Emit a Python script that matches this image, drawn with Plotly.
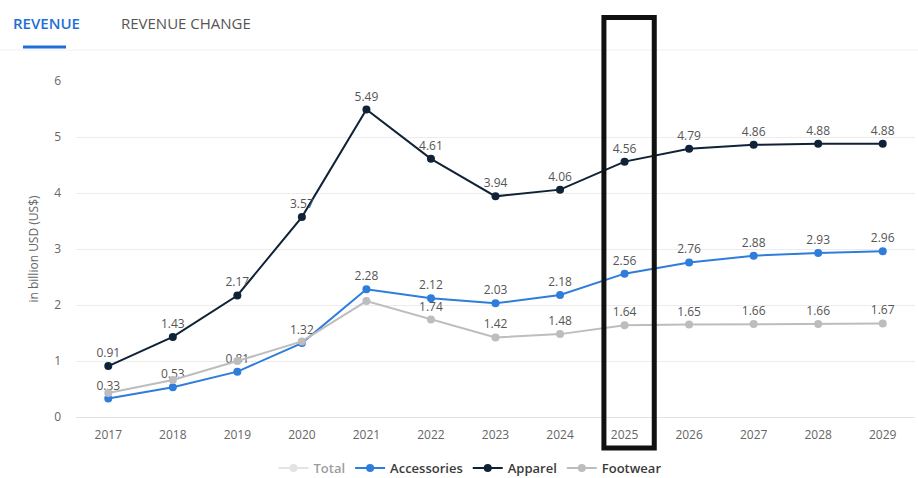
import plotly.graph_objects as go

years = [2017, 2018, 2019, 2020, 2021, 2022, 2023, 2024, 2025, 2026, 2027, 2028, 2029]
total = [1.67, 2.62, 3.98, 6.24, 9.84, 8.47, 7.39, 7.72, 8.76, 9.20, 9.40, 9.47, 9.51]
accessories = [0.33, 0.53, 0.81, 1.32, 2.28, 2.12, 2.03, 2.18, 2.56, 2.76, 2.88, 2.93, 2.96]
apparel = [0.91, 1.43, 2.17, 3.57, 5.49, 4.61, 3.94, 4.06, 4.56, 4.79, 4.86, 4.88, 4.88]
footwear = [0.43, 0.66, 1.00, 1.35, 2.07, 1.74, 1.42, 1.48, 1.64, 1.65, 1.66, 1.66, 1.67]
footwear_labels = ["", "", "", "", "", "1.74", "1.42", "1.48", "1.64", "1.65", "1.66", "1.66", "1.67"]
y_ticks = [0, 1, 2, 3, 4, 5, 6]

FONT = "Open Sans"
LABEL = dict(family=FONT, size=12, color="#555555")

fig = go.Figure()

fig.add_trace(go.Scatter(
    x=years, y=total, name="Total", mode="lines+markers",
    line=dict(color="#c8c8c8", width=2), marker=dict(size=8, color="#c8c8c8"),
    visible="legendonly"))

fig.add_trace(go.Scatter(
    x=years, y=accessories, name="Accessories", mode="lines+markers+text",
    line=dict(color="#2f7ddb", width=2), marker=dict(size=8, color="#2f7ddb"),
    text=[f"{v:.2f}" for v in accessories], textposition="top center",
    textfont=LABEL, cliponaxis=False))

fig.add_trace(go.Scatter(
    x=years, y=apparel, name="Apparel", mode="lines+markers+text",
    line=dict(color="#0f2237", width=2), marker=dict(size=8, color="#0f2237"),
    text=[f"{v:.2f}" for v in apparel], textposition="top center",
    textfont=LABEL, cliponaxis=False))

fig.add_trace(go.Scatter(
    x=years, y=footwear, name="Footwear", mode="lines+markers+text",
    line=dict(color="#bdbdbd", width=2), marker=dict(size=8, color="#bdbdbd"),
    text=footwear_labels, textposition="top center",
    textfont=LABEL, cliponaxis=False))

L, R, T, B = 76, 3, 81, 61
W, H = 918, 478
pw = W - L - R
ph = H - T - B

def px(x):
    return (x - L) / pw

def py(y):
    return (H - B - y) / ph

fig.update_layout(
    width=W, height=H,
    margin=dict(l=L, r=R, t=T, b=B, autoexpand=False),
    paper_bgcolor="white", plot_bgcolor="white",
    font=dict(family=FONT, size=12, color="#666666"),
    showlegend=True,
    legend=dict(orientation="h", x=px(470), xanchor="center", y=py(468), yanchor="middle",
                font=dict(family=FONT, size=13, color="#3a3a3a", weight=600),
                itemwidth=30, bgcolor="rgba(0,0,0,0)"),
    xaxis=dict(range=[2016.5, 2029.5], tickmode="array", tickvals=years,
               ticktext=[str(y) for y in years], showgrid=False, zeroline=False,
               showline=True, linecolor="#e3e3e3", linewidth=1, ticks="",
               ticklabelstandoff=7,
               tickfont=dict(family=FONT, size=12, color="#666666"), fixedrange=True),
    yaxis=dict(range=[0, 6], tickmode="array", tickvals=y_ticks,
               showgrid=True, gridcolor="#ececec", gridwidth=1, zeroline=False,
               ticks="", ticklabelstandoff=14,
               tickfont=dict(family=FONT, size=12, color="#666666"),
               title=dict(text="in billion USD (US$)", standoff=12,
                          font=dict(family=FONT, size=12, color="#666666")),
               fixedrange=True),
    annotations=[
        dict(text="REVENUE", xref="paper", yref="paper", x=px(11), y=py(23),
             xanchor="left", yanchor="middle", showarrow=False,
             font=dict(family=FONT, size=15, color="#1f6fd6", weight=600)),
        dict(text="REVENUE CHANGE", xref="paper", yref="paper", x=px(119), y=py(23),
             xanchor="left", yanchor="middle", showarrow=False,
             font=dict(family=FONT, size=15, color="#555555", weight=500)),
    ],
    shapes=[
        dict(type="line", xref="paper", yref="paper", x0=px(0), x1=px(918), y0=py(50), y1=py(50),
             line=dict(color="#f0f0f0", width=1)),
        dict(type="line", xref="paper", yref="paper", x0=px(23), x1=px(66), y0=py(47), y1=py(47),
             line=dict(color="#1f6fd6", width=3)),
        dict(type="rect", xref="x", yref="paper", x0=2024.68, x1=2025.46, y0=py(448), y1=py(17.5),
             line=dict(color="#111111", width=5), fillcolor="rgba(0,0,0,0)"),
    ],
)

fig.write_html(
    "out.html",
    config={"displayModeBar": False},
    post_script="document.body.style.margin='0';document.body.style.overflow='hidden';",
)
